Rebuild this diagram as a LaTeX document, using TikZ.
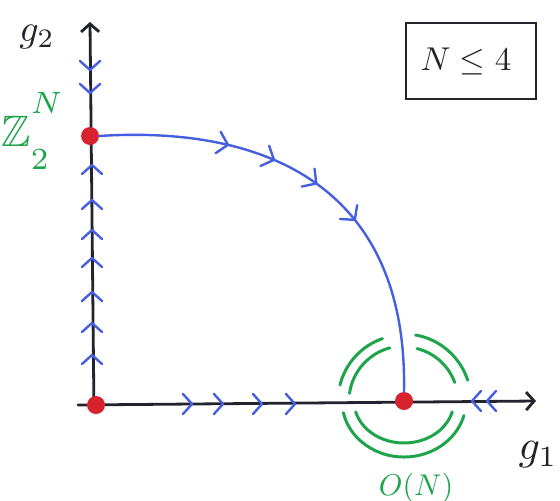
\documentclass[tikz,border=0pt]{standalone}
\usepackage{amssymb}
\usetikzlibrary{arrows.meta,decorations.markings,backgrounds}
\definecolor{penblue}{RGB}{70,95,225}
\definecolor{pengreen}{RGB}{30,165,75}
\definecolor{penred}{RGB}{215,35,45}
\definecolor{penblack}{RGB}{35,35,45}
\tikzset{
 axis/.style={draw=penblack,line width=2.8pt,line cap=round,-{Straight Barb[length=8pt,width=18pt]}},
 flow/.style={draw=penblue,line width=2.4pt,line cap=round,line join=round},
 ring/.style={draw=pengreen,line width=3pt,line cap=round},
 dot/.style={circle,fill=penred,minimum size=18pt,inner sep=0pt},
 chev/.pic={\draw[flow] (-9,-10) -- (0,0) -- (-9,10);},
 lbl/.style={inner sep=0pt},
}
\begin{document}
\begin{tikzpicture}[x=1pt,y=-1pt]
\useasboundingbox (0,0) rectangle (560,501);
% fixed points
\node[dot] (Z) at (90,136) {};
\node[dot] (O) at (96,405) {};
\node[dot] (ON) at (404,401) {};
\coordinate (ybot) at (94,412);
\coordinate (ytop) at (90,22);
\coordinate (xleft) at (78,405);
\coordinate (xright) at (536,401);
\begin{pgfonlayer}{background}
\fill[white] (0,0) rectangle (560,501);
\draw[axis] (ybot) -- (ytop);
\draw[axis] (xleft) -- (xright);
\end{pgfonlayer}
% flow curve
\draw[flow,postaction={decorate},decoration={markings,
  mark=at position 0.28 with {\draw[flow] (-10,-11) -- (0,0) -- (-10,11);},
  mark=at position 0.385 with {\draw[flow] (-10,-11) -- (0,0) -- (-10,11);},
  mark=at position 0.49 with {\draw[flow] (-10,-11) -- (0,0) -- (-10,11);},
  mark=at position 0.605 with {\draw[flow] (-10,-11) -- (0,0) -- (-10,11);}}]
  (Z.east) .. controls (270,125) and (408,190) .. (ON.north);
% chevrons on g2 axis above Z
\pic[rotate=-90] at (90,70) {chev};
\pic[rotate=-90] at (90,93) {chev};
% chevrons on g2 axis below Z
\foreach \y in {165,200,230,258,292,323,355} \pic[rotate=90] at (92,\y) {chev};
% chevrons on g1 axis
\foreach \x in {192,223,262,295} \pic at (\x,404) {chev};
\foreach \x in {472,487} \pic[rotate=180] at (\x,401) {chev};
% green arcs around O(N)
\draw[ring] ([shift={(-172:55)}]ON.center) arc[start angle=-172,end angle=-105,radius=55];
\draw[ring] ([shift={(-166:66)}]ON.center) arc[start angle=-166,end angle=-109,radius=66];
\draw[ring] ([shift={(-76:54)}]ON.center) arc[start angle=-76,end angle=-20,radius=54];
\draw[ring] ([shift={(-80:67)}]ON.center) arc[start angle=-80,end angle=-18,radius=67];
\draw[ring] ([shift={(-195:50 and 42)}]ON.center) arc[start angle=-195,end angle=-345,x radius=50,y radius=42];
\draw[ring] ([shift={(-192:62 and 56)}]ON.center) arc[start angle=-192,end angle=-345,x radius=62,y radius=56];
% labels
\node[lbl,text=penblack,scale=3.8] (g2) at (37,37) {$g_2$};
\node[lbl,text=pengreen,scale=4.4] (zl) at (33,131) {$\mathbb{Z}^{\raisebox{0.9ex}{$\scriptstyle N$}}_{\raisebox{-0.6ex}{$\scriptstyle 2$}}$};
\node[lbl,text=pengreen,scale=3] (onl) at (416,488) {$O(N)$};
\node[lbl,text=penblack,scale=4.2] (g1) at (538,455) {$g_1$};
\draw[penblack,line width=2.8pt] (406,23) rectangle (536,99);
\node[lbl,text=penblack,scale=3.3] (cond) at (466,61) {$N\leq 4$};
\end{tikzpicture}
\end{document}
